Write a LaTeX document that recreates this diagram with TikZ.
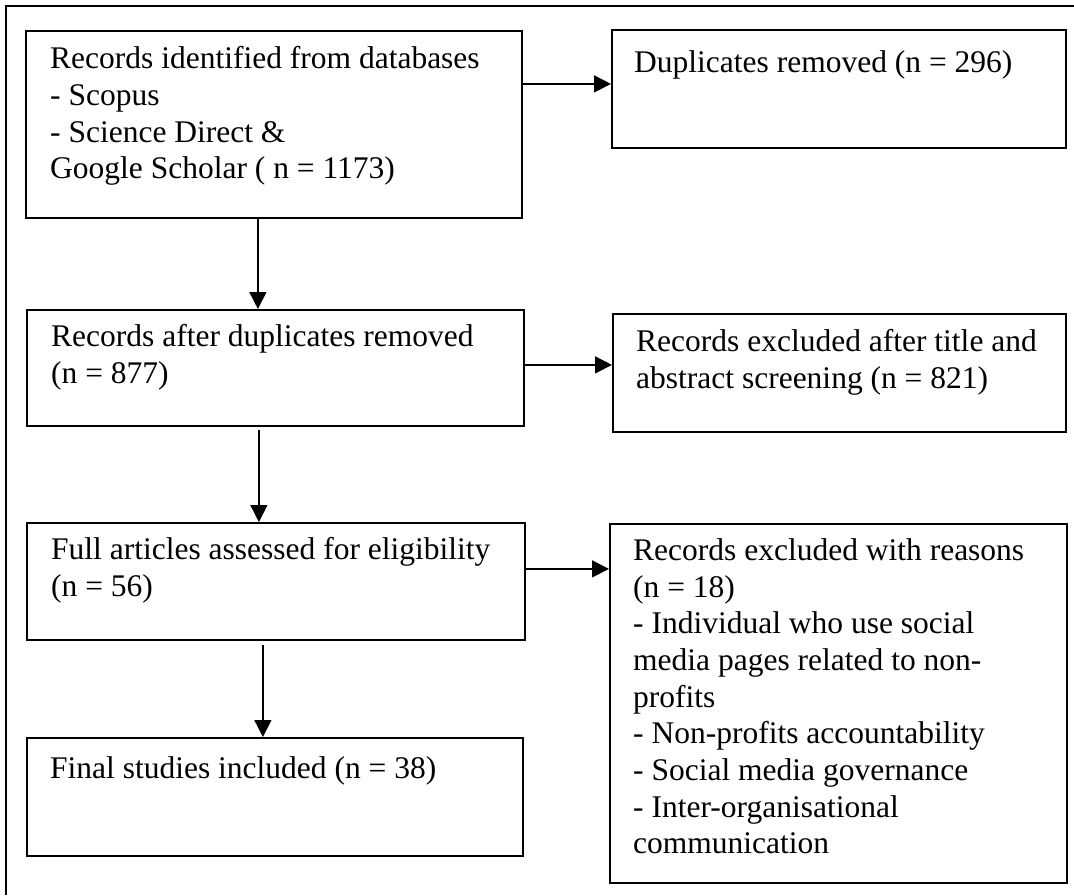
\documentclass[tikz,border=0pt]{standalone}
\usepackage{fontspec}
\setmainfont{Liberation Serif}
\usetikzlibrary{arrows.meta,calc}
\begin{document}
\begin{tikzpicture}[x=1pt,y=-1pt,
  box/.style={draw, line width=1.8pt, inner sep=0pt, anchor=north west},
  txt/.style={anchor=north west, yshift=25.69pt, inner sep=0pt, align=left,
    font=\fontsize{31.5}{36.7}\selectfont, execute at begin node=\strut},
  arr/.style={line width=1.5pt, -{Triangle[length=17pt,width=17pt]}},
  frame/.style={line width=2pt}]
\useasboundingbox (0,0) rectangle (1074,895);
\draw[frame] (6,895) -- (6,6) -- (1074,6);

\node[box, minimum width=496pt, minimum height=187pt] (b1) at (25,30) {};
\node[box, minimum width=454pt, minimum height=118pt] (b2) at (611,29) {};
\node[box, minimum width=497pt, minimum height=116pt] (b3) at (26,309) {};
\node[box, minimum width=453pt, minimum height=118pt] (b4) at (612,313) {};
\node[box, minimum width=498pt, minimum height=117pt] (b5) at (26,522) {};
\node[box, minimum width=457pt, minimum height=359pt] (b6) at (609,523) {};
\node[box, minimum width=496pt, minimum height=118pt] (b7) at (26,737) {};

\node[txt] (t1) at (50,72) {Records identified from databases\\- Scopus\\- Science Direct \&\\Google Scholar ( n = 1173)};
\node[txt] (t2) at (634,72) {Duplicates removed (n = 296)};
\node[txt] (t3) at (51,350) {Records after duplicates removed\\(n = 877)};
\node[txt] (t4) at (636,355) {Records excluded after title and\\abstract screening (n = 821)};
\node[txt] (t5) at (51,563) {Full articles assessed for eligibility\\(n = 56)};
\node[txt] (t6) at (633,564) {Records excluded with reasons\\(n = 18)\\- Individual who use social\\media pages related to non-\\profits\\- Non-profits accountability\\- Social media governance\\- Inter-organisational\\communication};
\node[txt] (t7) at (50,778) {Final studies included (n = 38)};

\path ([xshift=-16pt]b1.south) coordinate (v1)
      ([xshift=-16.5pt,yshift=-3pt]b3.south) coordinate (v2)
      ([xshift=-13pt,yshift=-4pt]b5.south) coordinate (v3)
      ([yshift=40.5pt]b1.east) coordinate (h1)
      ([yshift=3pt]b3.east) coordinate (h2)
      ([yshift=12.5pt]b5.east) coordinate (h3);
\draw[arr] (v1) -- (v1 |- b3.north);
\draw[arr] (v2) -- (v2 |- b5.north);
\draw[arr] (v3) -- (v3 |- b7.north);
\draw[arr] (h1) -- (h1 -| b2.west);
\draw[arr] (h2) -- (h2 -| b4.west);
\draw[arr] (h3) -- (h3 -| b6.west);
\end{tikzpicture}
\end{document}
